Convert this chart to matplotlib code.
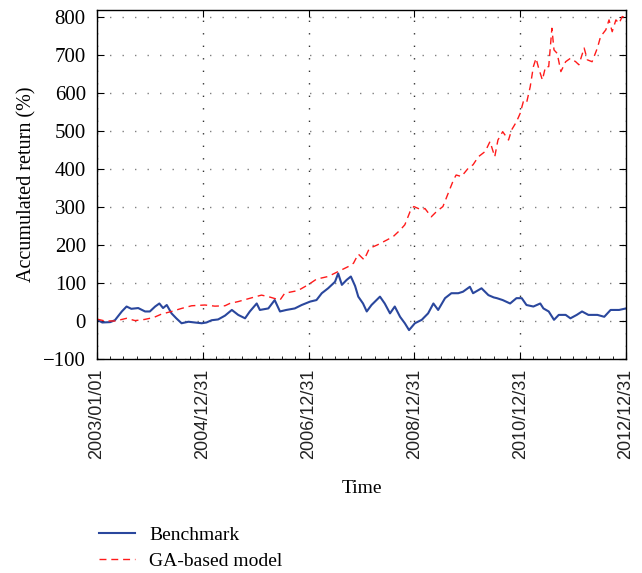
import matplotlib
matplotlib.use("Agg")
import matplotlib.pyplot as plt
from matplotlib.ticker import MultipleLocator

# time axis in decimal years
bench_t = [2003.00, 2003.10, 2003.25, 2003.34, 2003.47, 2003.56, 2003.65, 2003.78, 2003.91,
           2004.00, 2004.10, 2004.18, 2004.25, 2004.32, 2004.41, 2004.50, 2004.60, 2004.73,
           2004.85, 2004.98, 2005.07, 2005.17, 2005.29, 2005.42, 2005.55, 2005.67, 2005.80,
           2005.89, 2006.02, 2006.08, 2006.24, 2006.36, 2006.46, 2006.58, 2006.74, 2006.87,
           2007.03, 2007.15, 2007.25, 2007.37, 2007.50, 2007.56, 2007.63, 2007.72, 2007.80,
           2007.88, 2007.94, 2008.03, 2008.10, 2008.19, 2008.35, 2008.44, 2008.54, 2008.63,
           2008.73, 2008.82, 2008.90, 2009.01, 2009.14, 2009.26, 2009.36, 2009.45, 2009.58,
           2009.70, 2009.83, 2009.92, 2010.05, 2010.11, 2010.27, 2010.40, 2010.50, 2010.56,
           2010.67, 2010.81, 2010.93, 2011.03, 2011.12, 2011.25, 2011.38, 2011.44, 2011.54,
           2011.64, 2011.73, 2011.86, 2011.95, 2012.07, 2012.17, 2012.29, 2012.46, 2012.59,
           2012.71, 2012.87, 2013.00]
bench_v = [4, -4, -3, 2, 25, 38, 32, 34, 25,
           25, 38, 46, 34, 42, 20, 7, -6, -2,
           -4, -6, -4, 2, 4, 14, 29, 16, 7,
           25, 46, 29, 33, 55, 25, 29, 33, 42,
           51, 55, 73, 86, 103, 125, 95, 108, 117,
           92, 64, 46, 25, 42, 64, 46, 20, 38,
           11, -6, -24, -6, 3, 20, 46, 29, 60,
           73, 73, 77, 90, 73, 86, 68, 62, 60,
           55, 46, 60, 60, 42, 38, 46, 33, 25,
           3, 16, 16, 7, 16, 25, 16, 16, 11,
           29, 29, 33]

ga_t = [2003.00, 2003.15, 2003.35, 2003.56, 2003.72, 2003.90, 2004.07, 2004.22, 2004.41,
        2004.60, 2004.79, 2005.04, 2005.23, 2005.42, 2005.51, 2005.67, 2005.90, 2006.11,
        2006.24, 2006.46, 2006.55, 2006.80, 2006.99, 2007.15, 2007.37, 2007.56, 2007.75,
        2007.85, 2007.94, 2008.05, 2008.15, 2008.30, 2008.48, 2008.60, 2008.73, 2008.82,
        2008.92, 2008.99, 2009.14, 2009.20, 2009.32, 2009.42, 2009.54, 2009.64, 2009.74,
        2009.79, 2009.89, 2010.02, 2010.11, 2010.21, 2010.34, 2010.43, 2010.52, 2010.58,
        2010.67, 2010.78, 2010.84, 2010.93, 2011.00, 2011.06, 2011.12, 2011.19, 2011.25,
        2011.30, 2011.35, 2011.42, 2011.48, 2011.54, 2011.60, 2011.64, 2011.70, 2011.77,
        2011.86, 2011.95, 2012.05, 2012.11, 2012.21, 2012.27, 2012.36, 2012.46, 2012.52,
        2012.62, 2012.68, 2012.74, 2012.81, 2012.87, 2012.93, 2013.00]
ga_v = [5, 0, 0, 7, 1, 4, 9, 18, 25,
        33, 40, 42, 39, 40, 46, 51, 60, 68,
        64, 55, 73, 80, 95, 110, 117, 130, 143,
        152, 176, 161, 191, 200, 213, 222, 239, 253,
        288, 301, 292, 296, 274, 288, 301, 336, 371,
        384, 380, 402, 411, 432, 446, 472, 432, 476,
        498, 476, 503, 524, 546, 577, 573, 616, 669,
        691, 665, 634, 669, 669, 770, 713, 704, 656,
        682, 691, 682, 674, 718, 687, 682, 718, 748,
        766, 792, 761, 792, 783, 801, 796]

tick_pos = [2003, 2005, 2007, 2009, 2011, 2013]
tick_lab = ['2003/01/01', '2004/12/31', '2006/12/31', '2008/12/31', '2010/12/31', '2012/12/31']

serif = 'Liberation Serif'

fig = plt.figure(figsize=(6.42, 5.73), dpi=100)
ax = fig.add_axes([0.151, 0.3735, 0.824, 0.609])

ax.plot(bench_t, bench_v, color='#2a479d', lw=1.5, label='Benchmark')
ax.plot(ga_t, ga_v, color='#ff1a1a', lw=1.0, dashes=(5, 3.5), label='GA-based model')

ax.set_xlim(2003, 2013)
ax.set_ylim(-100, 818)
ax.set_yticks(range(-100, 801, 100))
ax.set_xticks(tick_pos)
ax.set_xticklabels(tick_lab, rotation=90, family='Liberation Sans', fontsize=13, color='#222222')
ax.xaxis.set_minor_locator(MultipleLocator(0.25))
for lab in ax.get_yticklabels():
    lab.set_family(serif)
    lab.set_fontsize(15)

ax.tick_params(which='major', direction='in', length=5, width=0.8, top=True, right=True, pad=8)
ax.tick_params(which='minor', direction='in', length=2, width=0.6, top=False, right=False)
ax.tick_params(axis='x', pad=7)
for s in ax.spines.values():
    s.set_linewidth(1.0)

ax.grid(axis='y', color='#808080', lw=1.0, dashes=(1, 8))
ax.grid(axis='x', color='#333333', lw=1.0, dashes=(1, 8))

ax.set_xlabel('Time', family=serif, fontsize=14, labelpad=15)
ax.set_ylabel('Accumulated return (%)', family=serif, fontsize=14.5, labelpad=5)

fig.legend(loc='upper left', bbox_to_anchor=(0.154, 0.082), frameon=False,
           prop={'family': serif, 'size': 14}, handlelength=1.85, handletextpad=0.75,
           labelspacing=0.45, borderpad=0, borderaxespad=0)

fig.savefig('out.png', dpi=100)
